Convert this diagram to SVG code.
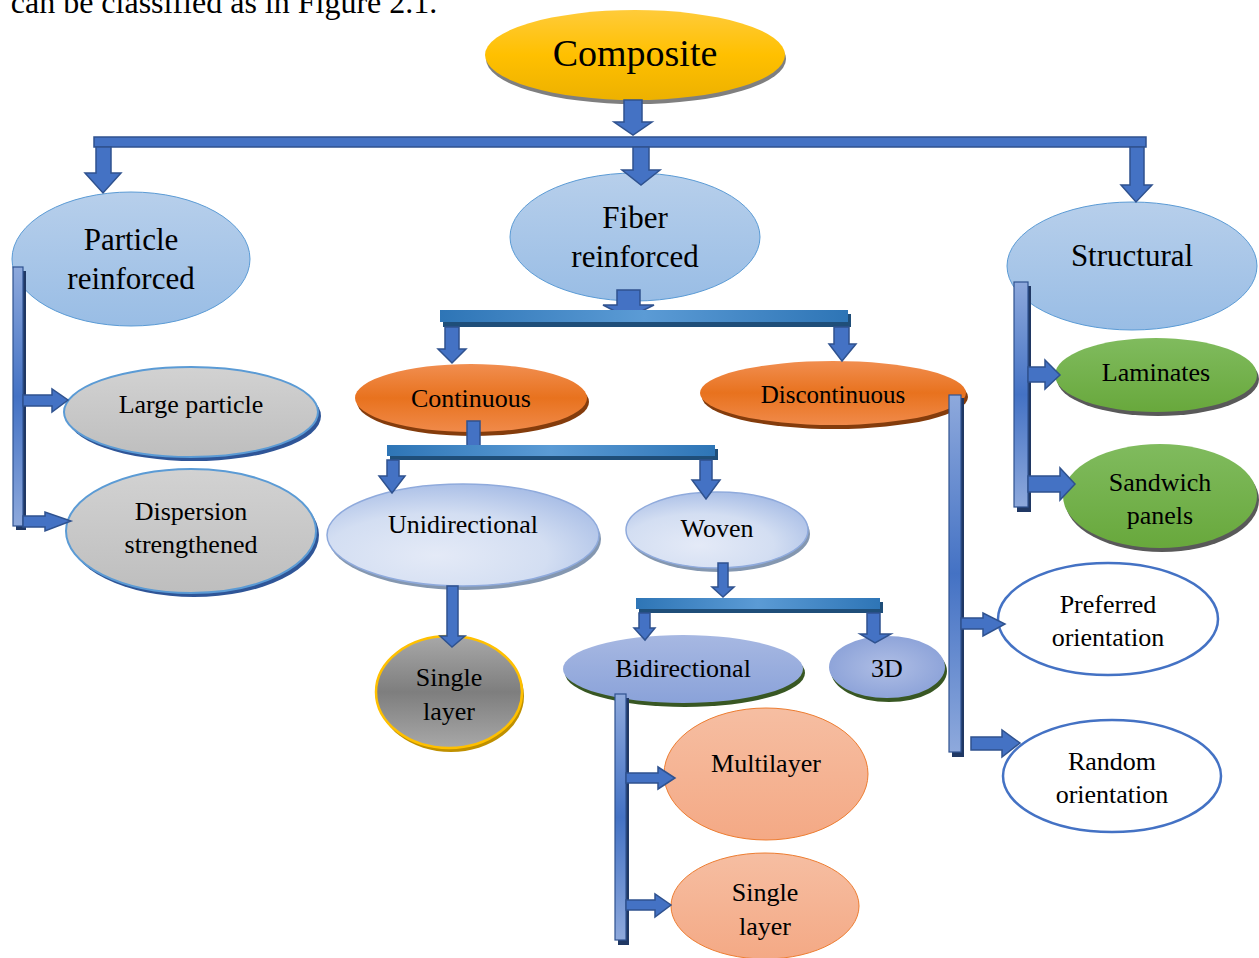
<svg xmlns="http://www.w3.org/2000/svg" width="1259" height="958" viewBox="0 0 1259 958">
<defs>
<linearGradient id="gGold" x1="0" y1="0" x2="0" y2="1"><stop offset="0" stop-color="#FFCB3A"/><stop offset="0.5" stop-color="#FFC000"/><stop offset="1" stop-color="#EDB100"/></linearGradient>
<linearGradient id="gBlue" x1="0" y1="0" x2="0" y2="1"><stop offset="0" stop-color="#B7CFEB"/><stop offset="1" stop-color="#99BDE5"/></linearGradient>
<linearGradient id="gGray" x1="0" y1="0" x2="0" y2="1"><stop offset="0" stop-color="#D2D2D2"/><stop offset="1" stop-color="#BEBEBE"/></linearGradient>
<linearGradient id="gOrange" x1="0" y1="0" x2="0" y2="1"><stop offset="0" stop-color="#F18E50"/><stop offset="0.5" stop-color="#E8721E"/><stop offset="1" stop-color="#F08A4A"/></linearGradient>
<radialGradient id="gPale" cx="0.4" cy="0.7" r="0.75"><stop offset="0" stop-color="#E4EAF7"/><stop offset="0.55" stop-color="#D3DEF2"/><stop offset="1" stop-color="#A5BBE5"/></radialGradient>
<linearGradient id="gDark" x1="0" y1="0" x2="0" y2="1"><stop offset="0" stop-color="#A8A8A8"/><stop offset="0.5" stop-color="#7E7E7E"/><stop offset="1" stop-color="#A8A8A8"/></linearGradient>
<linearGradient id="gPeri" x1="0" y1="0" x2="0" y2="1"><stop offset="0" stop-color="#A7B8E2"/><stop offset="1" stop-color="#8AA2D9"/></linearGradient>
<radialGradient id="gPeri3" cx="0.5" cy="0.5" r="0.6"><stop offset="0" stop-color="#AFBEE5"/><stop offset="1" stop-color="#889FD7"/></radialGradient>
<linearGradient id="gSalmon" x1="0" y1="0" x2="0" y2="1"><stop offset="0" stop-color="#F6BEA2"/><stop offset="1" stop-color="#F4A985"/></linearGradient>
<linearGradient id="gGreen" x1="0" y1="0" x2="0" y2="1"><stop offset="0" stop-color="#80BB5E"/><stop offset="1" stop-color="#68A83C"/></linearGradient>
<linearGradient id="gVbar" x1="0" y1="0" x2="0" y2="1"><stop offset="0" stop-color="#8EA9DC"/><stop offset="0.5" stop-color="#4472C4"/><stop offset="1" stop-color="#8EA9DC"/></linearGradient>
<linearGradient id="gHbar" x1="0" y1="0" x2="1" y2="0"><stop offset="0" stop-color="#2E75B6"/><stop offset="0.5" stop-color="#5B9BD5"/><stop offset="1" stop-color="#2E75B6"/></linearGradient>
<style>
text{font-family:"Liberation Serif","Times New Roman",serif;fill:#000;text-anchor:middle}
.big{font-size:31px}
.mid{font-size:26px}
.arr{fill:#4472C4;stroke:#2F528F;stroke-width:1.5;stroke-linejoin:miter}
.vbar{fill:url(#gVbar);stroke:#2F528F;stroke-width:1.2}
.vsh{fill:#203864}
.hbar{fill:url(#gHbar)}
.hsh{fill:#1F4E79}
</style>
</defs>
<rect width="1259" height="958" fill="#fff"/>
<text x="224" y="13" style="font-size:32px">can be classified as in Figure 2.1.</text>

<g id="composite">
<ellipse cx="636" cy="59" rx="150" ry="45" fill="#7F7F7F"/>
<ellipse cx="635" cy="55" rx="150" ry="45" fill="url(#gGold)"/>
<text x="635" y="66" style="font-size:38px">Composite</text>
</g>
<g id="particle">
<ellipse cx="131" cy="259" rx="119" ry="67" fill="url(#gBlue)" stroke="#5B9BD5" stroke-width="1"/>
<text class="big" x="131" y="250">Particle</text>
<text class="big" x="131" y="289">reinforced</text>
</g>
<g id="fiber">
<ellipse cx="635" cy="237" rx="125" ry="64" fill="url(#gBlue)" stroke="#5B9BD5" stroke-width="1"/>
<text class="big" x="635" y="228">Fiber</text>
<text class="big" x="635" y="267">reinforced</text>
</g>
<g id="structural">
<ellipse cx="1132" cy="266" rx="125" ry="64" fill="url(#gBlue)" stroke="#5B9BD5" stroke-width="1"/>
<text class="big" x="1132" y="266">Structural</text>
</g>
<g id="large-particle">
<ellipse cx="194" cy="416" rx="127" ry="45" fill="#2F5597"/>
<ellipse cx="191" cy="412" rx="127" ry="45" fill="url(#gGray)" stroke="#5B9BD5" stroke-width="2"/>
<text class="mid" x="191" y="413">Large particle</text>
</g>
<g id="dispersion">
<ellipse cx="194" cy="535" rx="125" ry="62" fill="#2F5597"/>
<ellipse cx="191" cy="531" rx="125" ry="62" fill="url(#gGray)" stroke="#5B9BD5" stroke-width="2"/>
<text class="mid" x="191" y="520">Dispersion</text>
<text class="mid" x="191" y="553">strengthened</text>
</g>
<g id="continuous">
<ellipse cx="473" cy="402" rx="116" ry="34" fill="#843C0C"/>
<ellipse cx="471" cy="398" rx="116" ry="34" fill="url(#gOrange)"/>
<text class="mid" x="471" y="407">Continuous</text>
</g>
<g id="discontinuous">
<ellipse cx="835" cy="397" rx="133" ry="32" fill="#843C0C"/>
<ellipse cx="833" cy="393" rx="133" ry="32" fill="url(#gOrange)"/>
<text x="833" y="403" style="font-size:25px">Discontinuous</text>
</g>
<g id="unidirectional">
<ellipse cx="465" cy="539" rx="136" ry="51" fill="#8497B0"/>
<ellipse cx="463" cy="535" rx="136" ry="51" fill="url(#gPale)" stroke="#8FAADC" stroke-width="1.5"/>
<text class="mid" x="463" y="533">Unidirectional</text>
</g>
<g id="woven">
<ellipse cx="719" cy="534" rx="91" ry="38" fill="#8497B0"/>
<ellipse cx="717" cy="530" rx="91" ry="38" fill="url(#gPale)" stroke="#8FAADC" stroke-width="1.5"/>
<text class="mid" x="717" y="537">Woven</text>
</g>
<g id="single-layer-gray">
<ellipse cx="451" cy="696" rx="73" ry="56" fill="#BF9000"/>
<ellipse cx="449" cy="692" rx="73" ry="56" fill="url(#gDark)" stroke="#FFC000" stroke-width="2.5"/>
<text class="mid" x="449" y="686">Single</text>
<text class="mid" x="449" y="720">layer</text>
</g>
<g id="bidirectional">
<ellipse cx="685" cy="673" rx="120" ry="34" fill="#385723"/>
<ellipse cx="683" cy="669" rx="120" ry="34" fill="url(#gPeri)"/>
<text class="mid" x="683" y="677">Bidirectional</text>
</g>
<g id="three-d">
<ellipse cx="889" cy="671" rx="58" ry="31" fill="#385723"/>
<ellipse cx="887" cy="667" rx="58" ry="31" fill="url(#gPeri3)"/>
<text class="mid" x="887" y="677">3D</text>
</g>
<g id="multilayer">
<ellipse cx="766" cy="774" rx="102" ry="66" fill="url(#gSalmon)" stroke="#ED7D31" stroke-width="1"/>
<text class="mid" x="766" y="772">Multilayer</text>
</g>
<g id="single-layer-salmon">
<ellipse cx="765" cy="906" rx="94" ry="53" fill="url(#gSalmon)" stroke="#ED7D31" stroke-width="1"/>
<text class="mid" x="765" y="901">Single</text>
<text class="mid" x="765" y="935">layer</text>
</g>
<g id="laminates">
<ellipse cx="1158" cy="379" rx="101" ry="37" fill="#595959"/>
<ellipse cx="1156" cy="375" rx="101" ry="37" fill="url(#gGreen)"/>
<text class="mid" x="1156" y="381">Laminates</text>
</g>
<g id="sandwich">
<ellipse cx="1162" cy="500" rx="97" ry="52" fill="#595959"/>
<ellipse cx="1160" cy="496" rx="97" ry="52" fill="url(#gGreen)"/>
<text class="mid" x="1160" y="491">Sandwich</text>
<text class="mid" x="1160" y="524">panels</text>
</g>
<g id="preferred">
<ellipse cx="1108" cy="619" rx="110" ry="56" fill="#fff" stroke="#4472C4" stroke-width="2.5"/>
<text class="mid" x="1108" y="613">Preferred</text>
<text class="mid" x="1108" y="646">orientation</text>
</g>
<g id="random">
<ellipse cx="1112" cy="776" rx="109" ry="56" fill="#fff" stroke="#4472C4" stroke-width="2.5"/>
<text class="mid" x="1112" y="770">Random</text>
<text class="mid" x="1112" y="803">orientation</text>
</g>

<g id="connectors">
<path class="arr" d="M624 100 L642 100 L642 122 L652 122 L633 135 L614 122 L624 122 Z"/>
<rect x="94" y="137" width="1052" height="10" fill="#4472C4" stroke="#2F528F" stroke-width="1.5"/>
<path class="arr" d="M96 147 L111 147 L111 173 L121 173 L103 193 L85 173 L96 173 Z"/>
<path class="arr" d="M633 147 L649 147 L649 170 L660 170 L641 185 L622 170 L633 170 Z"/>
<path class="arr" d="M1130 147 L1144 147 L1144 185 L1152 185 L1136 202 L1121 185 L1130 185 Z"/>

<path class="arr" d="M617 290 L640 290 L640 305 L654 305 L628 318 L603 305 L617 305 Z"/>
<rect class="hsh" x="443" y="314" width="408" height="13"/>
<rect class="hbar" x="440" y="310" width="408" height="12"/>
<path class="arr" d="M445 327 L459 327 L459 349 L466 349 L452 363 L438 349 L445 349 Z"/>
<path class="arr" d="M834 327 L849 327 L849 344 L856 344 L842 361 L829 344 L834 344 Z"/>

<rect class="arr" x="467" y="421" width="13" height="25"/>
<rect class="hsh" x="390" y="449" width="328" height="11"/>
<rect class="hbar" x="387" y="445" width="328" height="11"/>
<path class="arr" d="M387 460 L399 460 L399 476 L405 476 L392 493 L379 476 L387 476 Z"/>
<path class="arr" d="M700 460 L712 460 L712 480 L720 480 L706 499 L692 480 L700 480 Z"/>

<path class="arr" d="M447 586 L458 586 L458 636 L465 636 L452 647 L440 636 L447 636 Z"/>
<path class="arr" d="M718 563 L728 563 L728 587 L734 587 L723 597 L712 587 L718 587 Z"/>
<rect class="hsh" x="639" y="602" width="244" height="11"/>
<rect class="hbar" x="636" y="598" width="244" height="11"/>
<path class="arr" d="M639 613 L650 613 L650 628 L655 628 L645 640 L634 628 L639 628 Z"/>
<path class="arr" d="M867 613 L880 613 L880 634 L891 634 L875 643 L860 634 L867 634 Z"/>

<rect class="vsh" x="16" y="271" width="10" height="259"/>
<rect class="vbar" x="13" y="267" width="10" height="259"/>
<path class="arr" d="M23 395 L52 395 L52 389 L68 400 L52 412 L52 406 L23 406 Z"/>
<path class="arr" d="M23 516 L45 516 L45 512 L71 521 L45 531 L45 527 L23 527 Z"/>

<rect class="vsh" x="1017" y="286" width="14" height="226"/>
<rect class="vbar" x="1014" y="282" width="14" height="225"/>
<path class="arr" d="M1028 367 L1045 367 L1045 360 L1060 375 L1045 389 L1045 382 L1028 382 Z"/>
<path class="arr" d="M1028 476 L1060 476 L1060 468 L1075 484 L1060 500 L1060 492 L1028 492 Z"/>

<rect class="vsh" x="952" y="398" width="12" height="359"/>
<rect class="vbar" x="949" y="395" width="12" height="357"/>
<path class="arr" d="M961 618 L983 618 L983 613 L1005 624 L983 636 L983 629 L961 629 Z"/>
<path class="arr" d="M971 737 L1002 737 L1002 730 L1020 743 L1002 757 L1002 750 L971 750 Z"/>

<rect class="vsh" x="618" y="698" width="11" height="247"/>
<rect class="vbar" x="615" y="694" width="11" height="246"/>
<path class="arr" d="M626 773 L658 773 L658 767 L675 778 L658 789 L658 783 L626 783 Z"/>
<path class="arr" d="M626 900 L655 900 L655 894 L671 905 L655 917 L655 910 L626 910 Z"/>
</g>
</svg>
